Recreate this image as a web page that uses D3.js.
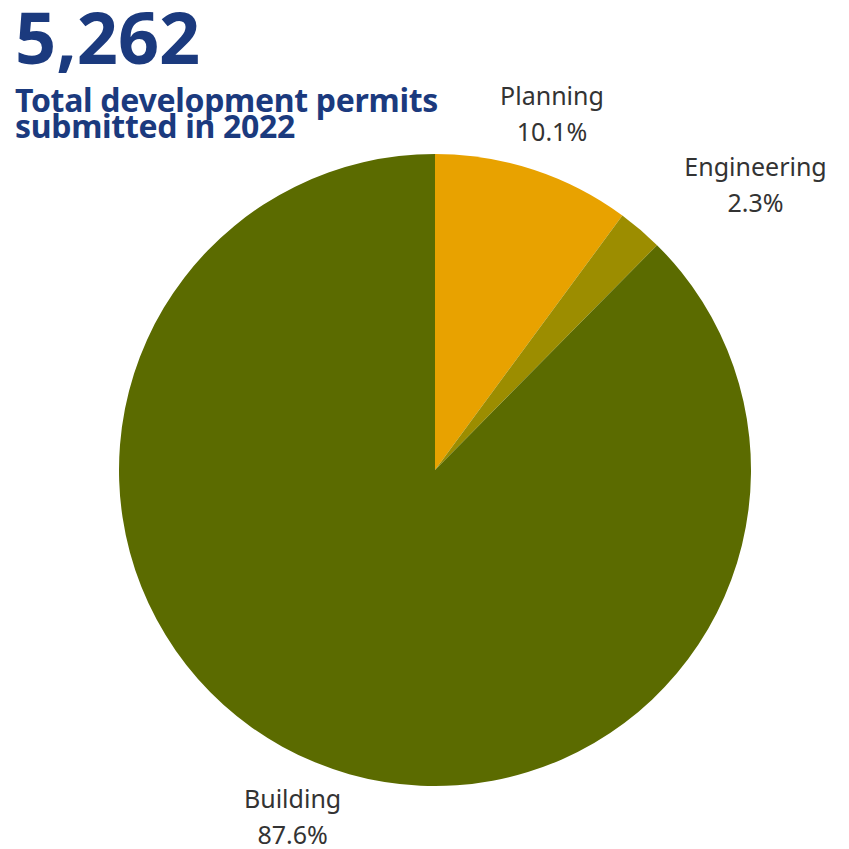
<!DOCTYPE html>
<html>
<head>
<meta charset="utf-8">
<script src="https://cdn.jsdelivr.net/npm/d3@7"></script>
<style>
  html, body { margin: 0; padding: 0; background: #fff; }
  svg { display: block; }
</style>
</head>
<body>
<svg id="chart" width="849" height="849"></svg>
<script>
// Permit categories and their shares of the 2022 total
const categories = ["Planning", "Engineering", "Building"];
const shares = [10.1, 2.3, 87.6];
const colors = ["#E8A200", "#9C8D00", "#5B6B00"];
const totalLabel = "5,262";
const subtitleLines = ["Total development permits", "submitted in 2022"];

const svg = d3.select("#chart");
const cx = 435, cy = 470, radius = 316;

// Headline number and subtitle
svg.append("text")
  .attr("x", 15).attr("y", 64)
  .attr("font-family", "'Noto Sans', sans-serif")
  .attr("font-weight", 700)
  .attr("font-size", 72)
  .attr("fill", "#1B3A7E")
  .text(totalLabel);

svg.append("text")
  .attr("x", 15).attr("y", 112)
  .attr("font-family", "'Noto Sans', sans-serif")
  .attr("font-weight", 700)
  .attr("font-size", 32)
  .attr("letter-spacing", -0.3)
  .attr("fill", "#1B3A7E")
  .selectAll("tspan")
  .data(subtitleLines)
  .join("tspan")
  .attr("x", 15)
  .attr("dy", (d, i) => i === 0 ? 0 : 26)
  .text(d => d);

const data = categories.map((c, i) => ({ name: c, value: shares[i], color: colors[i] }));

const pie = d3.pie().value(d => d.value).sort(null);
const arcs = pie(data);
const arc = d3.arc().innerRadius(0).outerRadius(radius);

const g = svg.append("g").attr("transform", `translate(${cx},${cy})`);

g.selectAll("path")
  .data(arcs)
  .join("path")
  .attr("d", arc)
  .attr("fill", d => d.data.color);

// Labels sit outside the pie; the thin Engineering slice is pushed sideways
const labelArc = d3.arc().innerRadius(375).outerRadius(375);
const nudge = { Engineering: [77, 0] };

const labels = g.selectAll("g.label")
  .data(arcs)
  .join("g")
  .attr("class", "label")
  .attr("transform", d => {
    const [x, y] = labelArc.centroid(d);
    const [nx, ny] = nudge[d.data.name] || [0, 0];
    return `translate(${x + nx},${y + ny})`;
  });

labels.append("text")
  .attr("text-anchor", "middle")
  .attr("font-family", "'Noto Sans', sans-serif")
  .attr("font-size", 25)
  .attr("fill", "#333")
  .selectAll("tspan")
  .data(d => [d.data.name, d3.format(".1f")(d.data.value) + "%"])
  .join("tspan")
  .attr("x", 0)
  .attr("y", (d, i) => i === 0 ? -9 : 27)
  .text(d => d);
</script>
</body>
</html>
